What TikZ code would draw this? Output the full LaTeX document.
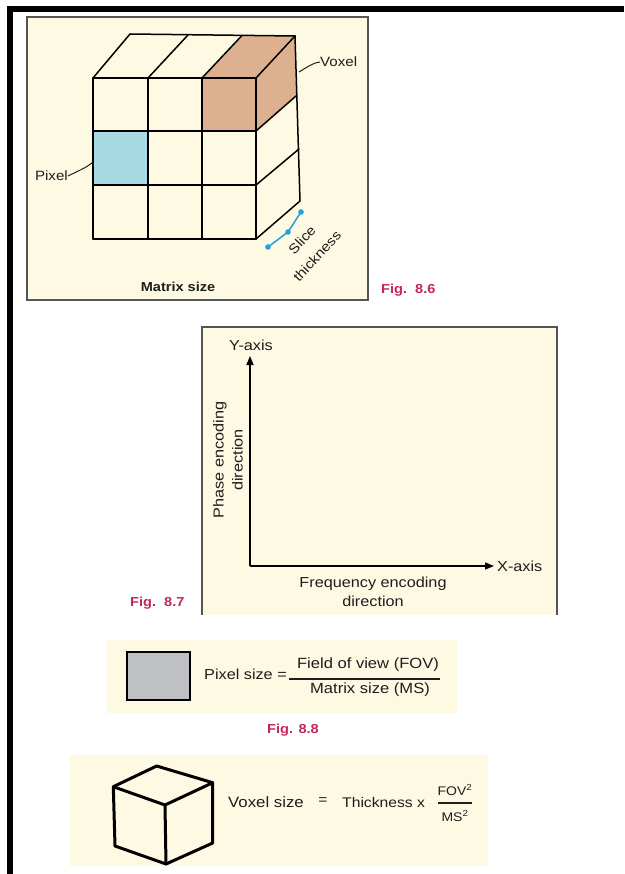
\documentclass[tikz,border=0pt]{standalone}
\usepackage{fontspec}
\setmainfont{Liberation Sans}[FakeStretch=1.12]
\usetikzlibrary{arrows.meta}
\definecolor{cream}{RGB}{253,249,226}
\definecolor{panelline}{RGB}{85,85,85}
\definecolor{voxbrown}{RGB}{221,176,144}
\definecolor{pixblue}{RGB}{168,218,228}
\definecolor{slicecol}{RGB}{35,160,220}
\definecolor{figred}{RGB}{196,38,92}
\definecolor{pixgray}{RGB}{190,192,196}
\definecolor{ink}{RGB}{30,30,30}

\begin{document}
\begin{tikzpicture}[x=1pt,y=-1pt,
  panel/.style={fill=cream,draw=panelline,line width=1.2pt},
  gridline/.style={line width=1.5pt,line join=round,line cap=round},
  lbl/.style={inner sep=0pt,text=ink,font=\fontsize{13.5}{17}\selectfont},
  axlbl/.style={inner sep=0pt,text=ink,font=\fontsize{14.5}{19}\selectfont},
  figlbl/.style={inner sep=0pt,text=figred,font=\fontsize{13}{15}\selectfont\bfseries},
  eqtxt/.style={inner sep=0pt,text=ink,font=\fontsize{14}{16}\selectfont},
  axisarrow/.style={line width=1.5pt,-{Triangle[length=9pt,width=7pt]}},
  solidcube/.style={line width=3pt,line join=round,line cap=round}
]
\useasboundingbox (0,0) rectangle (624,874);
\fill[white] (0,0) rectangle (624,874);

% page frame
\fill[black] (7,6) rectangle (624,12.5);
\fill[black] (7,6) rectangle (13,874);

% ---------------- Fig. 8.6 : voxel block ----------------
\draw[panel] (27,17) rectangle (368,300);

% shaded voxel and pixel
\fill[voxbrown] (202,78) -- (256,78) -- (295,36) -- (241.5,36) -- cycle;
\fill[voxbrown] (256,78) -- (295,36) -- (296,96) -- (256,131) -- cycle;
\fill[voxbrown] (202,78) rectangle (256,131);
\fill[pixblue] (93,131) rectangle (148,185);

% front grid
\foreach \gx in {93,148,202,256} \draw[gridline] (\gx,78) -- (\gx,239);
\foreach \gy in {78,131,185,239} \draw[gridline] (93,\gy) -- (256,\gy);
% top face
\draw[gridline] (93,78) -- (130,34) -- (295,36);
\draw[gridline] (148,78) -- (188,35);
\draw[gridline] (202,78) -- (241.5,36);
\draw[gridline] (256,78) -- (295,36);
% side face
\draw[gridline] (295,36) -- (300,201) -- (256,239);
\draw[gridline] (256,131) -- (296,96);
\draw[gridline] (256,185) -- (299,149);

% labels
\node[lbl,anchor=west] (voxlbl) at (320,62) {Voxel};
\draw[line width=1pt,ink] (299,72) .. controls (306,68) and (312,63) .. (voxlbl.west);
\node[lbl,anchor=east] (pixlbl) at (68,176) {Pixel};
\draw[line width=1pt,ink] (pixlbl.east) .. controls (78,171) and (86,168) .. (93,162);
\node[inner sep=0pt,text=ink,font=\fontsize{13}{15}\selectfont\bfseries] (matlbl) at (178,287) {Matrix size};

% slice thickness marker
\coordinate (sa) at (268,247);
\coordinate (sb) at (288,232);
\coordinate (sc) at (301,212);
\draw[slicecol,line width=1.5pt] (sa) -- (sb) -- (sc);
\foreach \p in {sa,sb,sc} \fill[slicecol] (\p) circle (2.8);
\node[lbl,rotate=47] (slicelbl) at (302,240) {Slice};
\node[lbl,rotate=47] (thicklbl) at (317,256) {thickness};

\node[figlbl,anchor=west] (fig86) at (381,290) {Fig.~~8.6};

% ---------------- Fig. 8.7 : encoding axes ----------------
\fill[cream] (202,327) rectangle (557,615);
\draw[panelline,line width=1.2pt] (202,615) -- (202,327) -- (557,327) -- (557,615);

\coordinate (origin) at (250,566);
\coordinate (ytip) at (250,356);
\coordinate (xtip) at (494,566);
\draw[axisarrow] (origin) -- (ytip);
\draw[axisarrow] (origin) -- (xtip);
\node[axlbl] (ylbl) at (251,345) {Y-axis};
\node[axlbl,anchor=west] (xlbl) at (497,566) {X-axis};
\node[axlbl,rotate=90,align=center] (phaselbl) at (228,460) {Phase encoding\\direction};
\node[axlbl,align=center] (freqlbl) at (373,592) {Frequency encoding\\direction};

\node[figlbl,anchor=west] (fig87) at (130,603) {Fig.~~8.7};

% ---------------- Fig. 8.8 : pixel size ----------------
\fill[cream] (107,640) rectangle (457,713);
\draw[line width=1.8pt,fill=pixgray] (127,652) rectangle (190,700);
\node[eqtxt,anchor=west,font=\fontsize{14.5}{16}\selectfont] (pixeq) at (204,674) {Pixel size =};
\node[eqtxt,font=\fontsize{14.8}{16}\selectfont] (fovnum) at (368,665) {Field of view (FOV)};
\node[eqtxt,font=\fontsize{14.8}{16}\selectfont] (msden) at (370,690) {Matrix size (MS)};
\draw[line width=1.2pt,ink] (289,679) -- (440,679);

\node[figlbl] (fig88) at (293,730) {Fig. 8.8};

% ---------------- voxel size ----------------
\fill[cream] (70,755) rectangle (488,866);
\coordinate (ct) at (156.7,766);
\coordinate (clt) at (113.3,786.7);
\coordinate (crt) at (212.7,782.7);
\coordinate (cc) at (165,805);
\coordinate (cb) at (166,864);
\coordinate (clb) at (115,846);
\coordinate (crb) at (212.7,843);
\draw[solidcube] (ct) -- (clt) -- (clb) -- (cb) -- (crb) -- (crt) -- cycle;
\draw[solidcube] (clt) -- (cc) -- (crt);
\draw[solidcube] (cc) -- (cb);

\node[eqtxt,anchor=west,font=\fontsize{15}{16}\selectfont] (voxeq) at (228,802) {Voxel size};
\node[eqtxt] (voxeqsign) at (323,801) {=};
\node[eqtxt,anchor=west] (thick) at (342,802) {Thickness x};
\node[eqtxt,font=\fontsize{12.5}{14}\selectfont] (fovsq) at (455,790) {FOV\textsuperscript{2}};
\node[eqtxt,font=\fontsize{12.5}{14}\selectfont] (mssq) at (455,816) {MS\textsuperscript{2}};
\draw[line width=1.2pt,ink] (438,803) -- (472,803);
\end{tikzpicture}
\end{document}
